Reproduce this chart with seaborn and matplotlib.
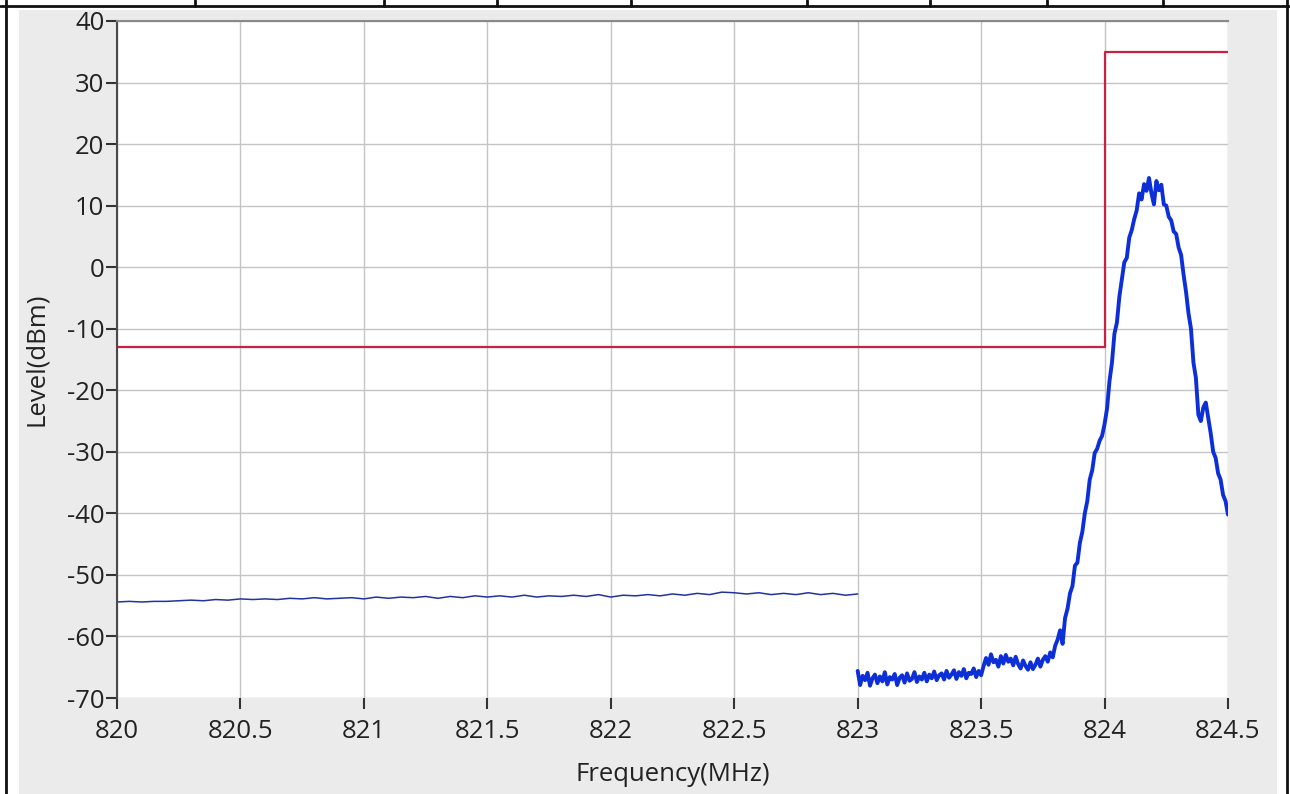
import numpy as np
import pandas as pd
import seaborn as sns
import matplotlib.pyplot as plt
from matplotlib.patches import Rectangle
from matplotlib.lines import Line2D

# spectrum emission plot, 820-824.5 MHz
sns.set_style("whitegrid")
plt.rcParams['font.family'] = ['Open Sans', 'DejaVu Sans']
plt.rcParams['axes.unicode_minus'] = False

# --- data ---
# low band trace 820..823 MHz (sweep points every 0.05 MHz)
low_level = [-54.4, -54.3, -54.4, -54.3, -54.3, -54.2, -54.1, -54.2, -54.0, -54.1,
             -53.9, -54.0, -53.9, -54.0, -53.8, -53.9, -53.7, -53.9, -53.8, -53.7,
             -53.9, -53.6, -53.8, -53.6, -53.7, -53.5, -53.8, -53.5, -53.7, -53.4,
             -53.6, -53.4, -53.6, -53.3, -53.6, -53.4, -53.5, -53.3, -53.5, -53.2,
             -53.6, -53.3, -53.4, -53.2, -53.4, -53.1, -53.3, -53.0, -53.2, -52.8,
             -52.9, -53.1, -52.9, -53.2, -53.0, -53.2, -52.9, -53.2, -53.0, -53.3,
             -53.1]
low_freq = np.linspace(820.0, 823.0, len(low_level))

# noise floor of the in-band trace 823..823.8 MHz (every 0.01 MHz)
floor_level = [-65.6, -67.9, -66.4, -67.1, -65.9, -68.0, -66.8, -66.2, -67.6, -66.5,
               -67.3, -65.8, -67.8, -66.6, -67.0, -66.1, -67.9, -66.7, -66.3, -67.5,
               -66.0, -67.2, -66.9, -65.8, -67.4, -66.5, -67.0, -65.9, -67.3, -66.2,
               -66.8, -65.7, -67.1, -66.3, -66.0, -67.0, -65.6, -66.7, -66.2, -65.5,
               -66.9, -65.8, -66.4, -65.3, -66.8, -65.9, -66.1, -65.2, -66.6, -65.6,
               -66.3, -64.8, -63.5, -64.6, -62.9, -64.2, -63.8, -64.9, -63.2, -64.4,
               -63.0, -64.1, -63.6, -64.7, -63.3, -64.5, -65.2, -63.9, -64.8, -65.4,
               -64.2, -65.3, -64.6, -63.6, -64.9, -63.8, -63.2, -64.1, -62.6, -63.4,
               -61.5]
floor_freq = np.linspace(823.0, 823.8, len(floor_level))

# carrier 823.81..824.5 MHz (every 0.01 MHz)
peak_level = [-60.5, -59.0, -61.2, -57.0, -55.5, -53.0, -51.8, -48.5, -48.0, -44.8,
              -43.0, -40.0, -38.0, -34.5, -33.0, -30.2, -29.5, -28.2, -27.4, -25.5,
              -23.0, -18.5, -15.5, -10.8, -9.0, -4.8, -2.0, 0.8, 1.5, 4.8,
              6.0, 7.8, 9.2, 12.0, 11.0, 13.5, 12.4, 14.5, 12.0, 10.2,
              14.0, 12.5, 13.4, 10.2, 10.0, 8.2, 7.6, 5.8, 5.4, 3.2,
              2.0, -1.2, -4.0, -7.5, -10.0, -15.5, -18.0, -24.0, -25.0, -22.8,
              -22.0, -24.5, -27.0, -30.0, -31.0, -33.5, -34.5, -37.0, -38.0, -40.2]
peak_freq = np.linspace(823.81, 824.50, len(peak_level))

# limit line
limit_freq = [820.0, 824.0, 824.0, 824.5]
limit_level = [-13, -13, 35, 35]

x_ticks = [820, 820.5, 821, 821.5, 822, 822.5, 823, 823.5, 824, 824.5]
x_tick_labels = ['820', '820.5', '821', '821.5', '822', '822.5', '823', '823.5', '824', '824.5']
y_ticks = [40, 30, 20, 10, 0, -10, -20, -30, -40, -50, -60, -70]

low_df = pd.DataFrame({'freq': low_freq, 'level': low_level})
hi_df = pd.DataFrame({'freq': np.concatenate([floor_freq, peak_freq]),
                      'level': floor_level + peak_level})
lim_df = pd.DataFrame({'freq': limit_freq, 'level': limit_level})

W, H = 1290, 794
fig = plt.figure(figsize=(W / 100, H / 100), dpi=100)
fig.patch.set_facecolor('white')

# gray panel behind the graph
fig.patches.append(Rectangle((19 / W, 0), 1258 / W, 784 / H, transform=fig.transFigure,
                             facecolor='#ebebeb', edgecolor='none', zorder=-5))

# table border lines from the document
lc = '#111111'
fig.lines.append(Line2D([0, 1], [1 - 6 / H, 1 - 6 / H], transform=fig.transFigure, color=lc, lw=2))
fig.lines.append(Line2D([6 / W, 6 / W], [0, 1], transform=fig.transFigure, color=lc, lw=2))
fig.lines.append(Line2D([1287 / W, 1287 / W], [0, 1], transform=fig.transFigure, color=lc, lw=2))
for xp in [195, 384, 497, 631, 807, 930, 1047, 1163]:
    fig.lines.append(Line2D([xp / W, xp / W], [1 - 6 / H, 1], transform=fig.transFigure, color=lc, lw=2))

ax = fig.add_axes([117 / W, 1 - 698 / H, 1111 / W, 677 / H])
ax.set_facecolor('white')

sns.lineplot(data=lim_df, x='freq', y='level', ax=ax, color='#cc2040', lw=1.6,
             estimator=None, sort=False)
sns.lineplot(data=low_df, x='freq', y='level', ax=ax, color='#2233a0', lw=1.1,
             estimator=None, sort=False)
sns.lineplot(data=hi_df, x='freq', y='level', ax=ax, color='#0c2fd8', lw=2.8,
             estimator=None, sort=False)

ax.set_xlim(820, 824.5)
ax.set_ylim(-70, 40)
ax.set_xticks(x_ticks)
ax.set_xticklabels(x_tick_labels)
ax.set_yticks(y_ticks)
ax.grid(True, color='#c4c4c4', lw=1)

for s in ['right', 'bottom']:
    ax.spines[s].set_visible(False)
ax.spines['left'].set_color('#4a4a4a')
ax.spines['left'].set_linewidth(1.5)
ax.spines['top'].set_color('#8a8a8a')
ax.spines['top'].set_linewidth(1.5)

ax.tick_params(axis='x', bottom=True, length=8, width=1.5, color='#333333',
               labelsize=18.5, pad=7, labelcolor='#222222')
ax.tick_params(axis='y', left=True, length=8, width=1.5, color='#333333',
               labelsize=18.5, pad=1, labelcolor='#222222')

ax.set_xlabel('Frequency(MHz)', fontsize=18.5, color='#222222', labelpad=13)
ax.set_ylabel('Level(dBm)', fontsize=18.5, color='#222222', labelpad=13)

plt.savefig('out.png', dpi=100)
